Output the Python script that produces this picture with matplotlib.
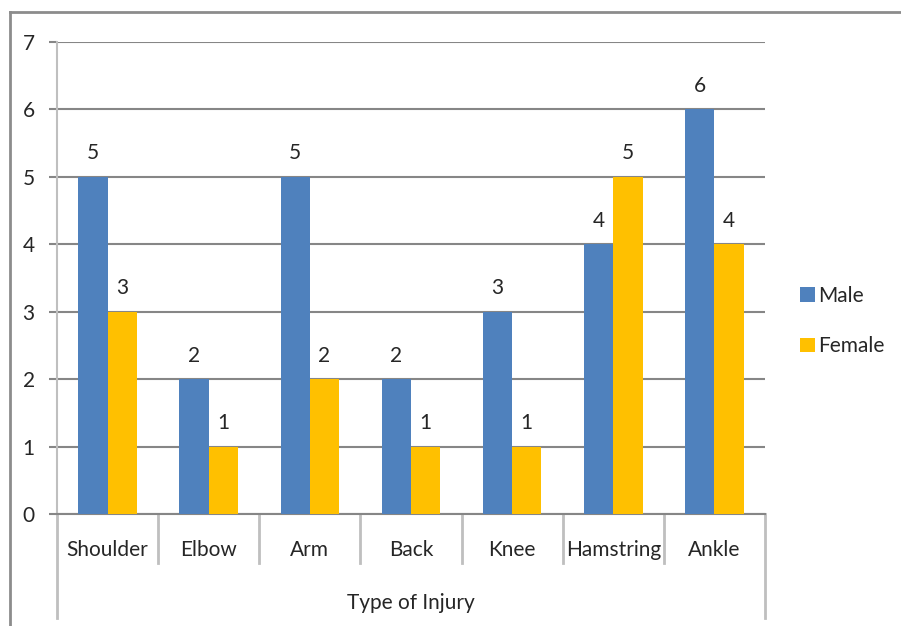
import matplotlib
matplotlib.use("Agg")
import matplotlib.pyplot as plt
import numpy as np
from matplotlib.lines import Line2D
import matplotlib.transforms as mtransforms

categories = ["Shoulder", "Elbow", "Arm", "Back", "Knee", "Hamstring", "Ankle"]
male = [5, 2, 5, 2, 3, 4, 6]
female = [3, 1, 2, 1, 1, 5, 4]
series_names = ["Male", "Female"]
axis_title = "Type of Injury"
yticks = [0, 1, 2, 3, 4, 5, 6, 7]

plt.rcParams['font.family'] = ['Lato', 'DejaVu Sans']
FS = 15
TXT = '#262626'
GRID = '#868686'
LIGHT = '#BFBFBF'
C_MALE = '#4F81BD'
C_FEMALE = '#FFC000'

W, H = 901, 626
fig = plt.figure(figsize=(W / 100, H / 100), dpi=100)

# Axes placement (pixel measurements from reference)
x0, x1 = 57, 765
y_top, y_bot = 42, 514
ax = fig.add_axes([x0 / W, 1 - y_bot / H, (x1 - x0) / W, (y_bot - y_top) / H])

n = len(categories)
x = np.arange(n)
bw = 0.29
b1 = ax.bar(x - bw / 2, male, bw, color=C_MALE, label=series_names[0], zorder=3)
b2 = ax.bar(x + bw / 2, female, bw, color=C_FEMALE, label=series_names[1], zorder=3)

for bars, vals in ((b1, male), (b2, female)):
    for rect, v in zip(bars, vals):
        ax.annotate(str(v), (rect.get_x() + rect.get_width() / 2, v),
                    xytext=(0, 17), textcoords='offset points',
                    ha='center', va='center', fontsize=FS, color=TXT)

ax.set_xlim(-0.5, n - 0.5)
ax.set_ylim(0, 7)
ax.set_yticks(yticks)
ax.set_yticklabels([str(t) for t in yticks], fontsize=FS, color=TXT)
ax.yaxis.grid(True, color=GRID, linewidth=1.5, zorder=0)
ax.set_axisbelow(True)
ax.tick_params(axis='y', length=6, width=1.5, color=GRID, pad=10)
ax.set_xticks([])

for s in ('top', 'right'):
    ax.spines[s].set_visible(False)
ax.spines['left'].set_color(LIGHT)
ax.spines['left'].set_linewidth(1.5)
ax.spines['bottom'].set_color(GRID)
ax.spines['bottom'].set_linewidth(1.5)

trans = mtransforms.blended_transform_factory(ax.transData, ax.transAxes)
ah = (y_bot - y_top)
sep_bot = -(563 - y_bot) / ah
outer_bot = -(618 - y_bot) / ah
for i in range(n + 1):
    xb = i - 0.5
    yb = outer_bot if i in (0, n) else sep_bot
    ax.add_line(Line2D([xb, xb], [0, yb], transform=trans, color=LIGHT,
                       linewidth=2, clip_on=False))

lab_y = -(550 - y_bot) / ah
for i, c in enumerate(categories):
    ax.text(i, lab_y, c, transform=trans, ha='center', va='center',
            fontsize=FS, color=TXT)
ax.text((n - 1) / 2, -(603 - y_bot) / ah, axis_title, transform=trans,
        ha='center', va='center', fontsize=FS, color=TXT)

# outer frame
fig.add_artist(Line2D([10 / W, 10 / W], [1 - 12 / H, 0], transform=fig.transFigure,
                      color='#8C8C8C', linewidth=2))
fig.add_artist(Line2D([10 / W, 1], [1 - 12 / H, 1 - 12 / H], transform=fig.transFigure,
                      color='#8C8C8C', linewidth=2))

leg = fig.legend(handles=[b1, b2], loc='center left',
                 bbox_to_anchor=(800 / W, 1 - 321 / H),
                 frameon=False, fontsize=FS, handlelength=0.7, handleheight=0.7,
                 handletextpad=0.15, labelspacing=1.45, borderpad=0, borderaxespad=0)
for t in leg.get_texts():
    t.set_color(TXT)

fig.savefig('out.png', dpi=100, facecolor='white')
